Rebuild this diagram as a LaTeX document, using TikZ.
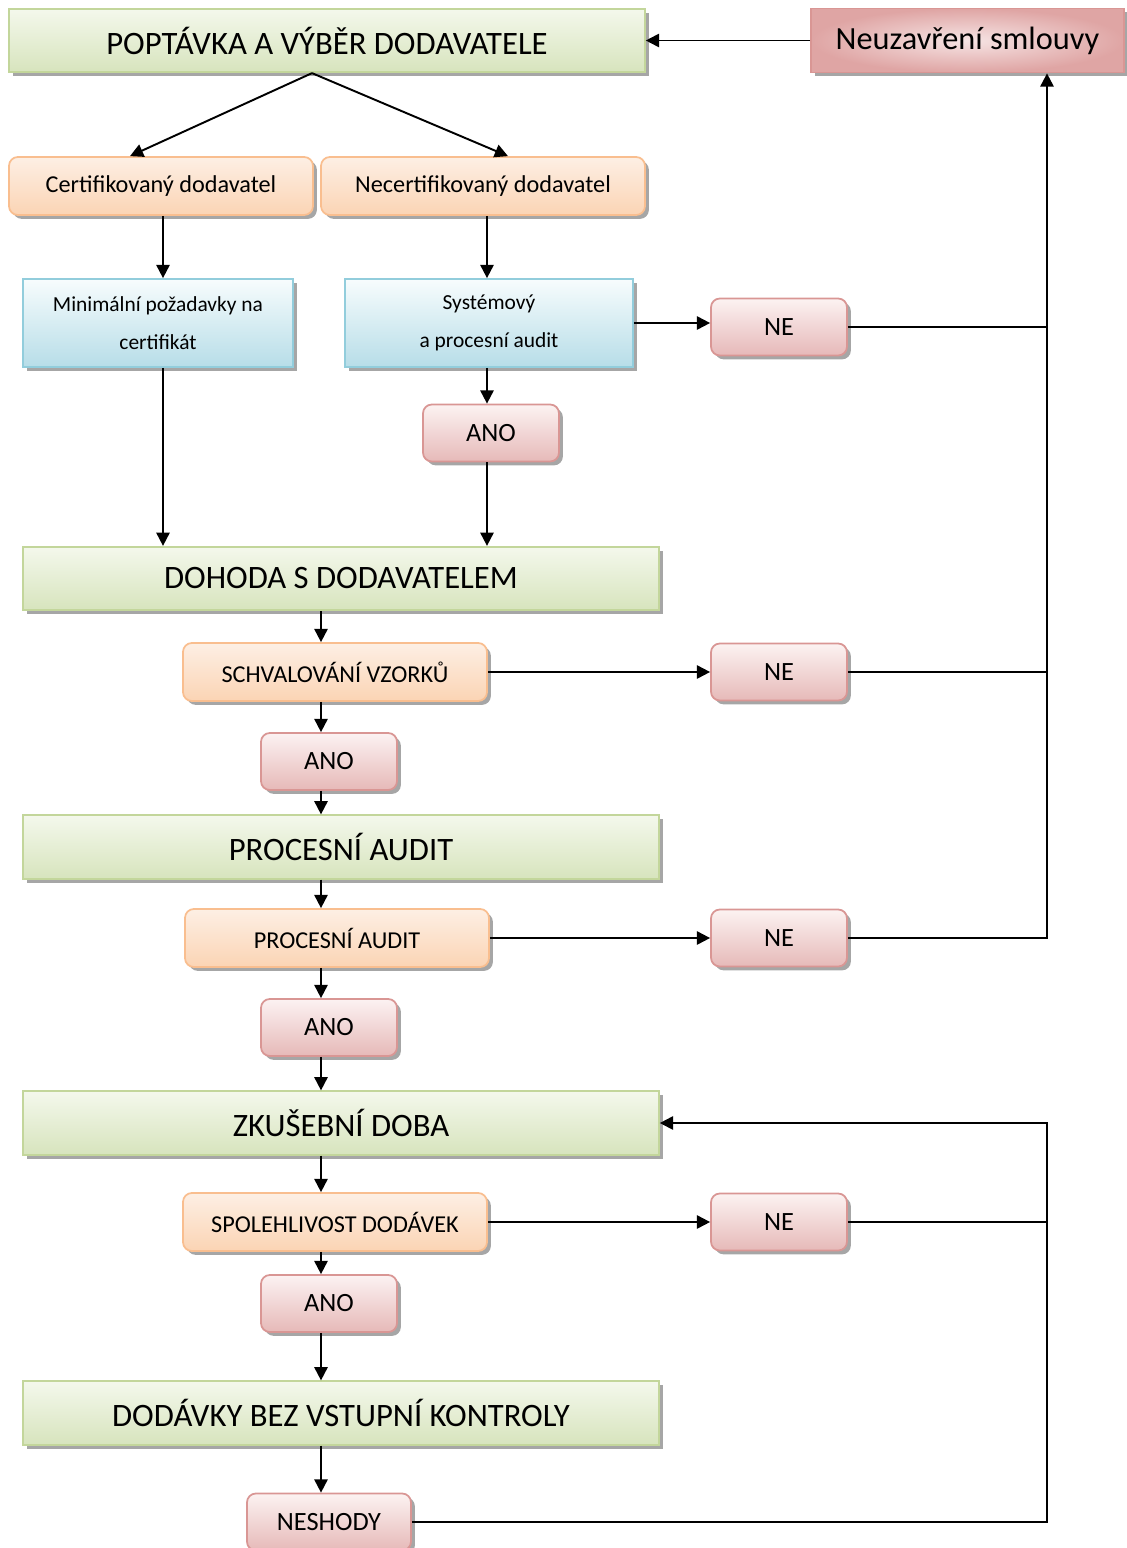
\documentclass[tikz,border=0pt]{standalone}
\usepackage{fontspec}
\setmainfont{Carlito}
\usetikzlibrary{arrows.meta,shadows,calc}

\definecolor{grnline}{HTML}{C3D69B}
\definecolor{grntop}{HTML}{F4F8EC}
\definecolor{grnbot}{HTML}{D7E4BD}
\definecolor{orgline}{HTML}{F9BE8F}
\definecolor{orgtop}{HTML}{FDEFE4}
\definecolor{orgbot}{HTML}{FBD4B4}
\definecolor{bluline}{HTML}{92CDDC}
\definecolor{blutop}{HTML}{F7FCFD}
\definecolor{blubot}{HTML}{B7DDE8}
\definecolor{redline}{HTML}{D99694}
\definecolor{redtop}{HTML}{FCF2F2}
\definecolor{redbot}{HTML}{E6B9B8}
\definecolor{redin}{HTML}{F6E4E4}
\definecolor{redout}{HTML}{DFA5A4}

\tikzset{
	box/.style={draw,line width=1pt,inner sep=0pt,align=center,
		drop shadow={shadow xshift=2.2pt,shadow yshift=-2.2pt,fill=black!50,opacity=0.7}},
	greenbox/.style={box,draw=grnline,top color=grntop,bottom color=grnbot,
		minimum width=12.72cm,minimum height=1.27cm,font=\fontsize{18.6}{22}\selectfont},
	orangebox/.style={box,draw=orgline,top color=orgtop,bottom color=orgbot,
		rounded corners=5pt,minimum height=1.16cm,font=\fontsize{13.8}{16}\selectfont},
	bluebox/.style={box,draw=bluline,top color=blutop,bottom color=blubot,
		minimum height=1.76cm,font=\fontsize{12.2}{22}\selectfont},
	redbox/.style={box,draw=redline,top color=redtop,bottom color=redbot,
		rounded corners=5pt,minimum width=2.72cm,minimum height=1.14cm,
		font=\fontsize{15}{18}\selectfont},
	endbox/.style={box,draw=redline,inner color=redin,outer color=redout,
		minimum width=6.26cm,minimum height=1.28cm,font=\fontsize{18.4}{22}\selectfont}
}

\begin{document}
\begin{tikzpicture}[x=0.02cm,y=-0.02cm,>={Triangle[length=7.5pt,width=7.5pt]},line width=1.1pt]

\useasboundingbox (0,0) rectangle (1126,1548);

% top row
\node[greenbox] (popt) at (327,40.5) {POPTÁVKA A VÝBĚR DODAVATELE};
\node[endbox] (neuz) at (967.5,40.5) {Neuzavření smlouvy};

% two kinds of supplier
\node[orangebox,minimum width=6.08cm] (cert) at (161,186) {Certifikovaný dodavatel};
\node[orangebox,minimum width=6.48cm] (necert) at (483,186) {Necertifikovaný dodavatel};
\node[bluebox,minimum width=5.4cm] (mini) at (158,323) {Minimální požadavky na\\certifikát};
\node[bluebox,minimum width=5.76cm] (syst) at (489,323) {Systémový\\a procesní audit};
\node[redbox] (ne1) at (779,327) {NE};
\node[redbox] (ano1) at (491,433) {ANO};

% main chain
\node[greenbox] (dohoda) at (341,578.5) {DOHODA S DODAVATELEM};
\node[orangebox,minimum width=6.08cm] (schval) at (335,672) {SCHVALOVÁNÍ VZORKŮ};
\node[redbox] (ne2) at (779,672) {NE};
\node[redbox] (ano2) at (329,761.5) {ANO};
\node[greenbox] (proc) at (341,847) {PROCESNÍ AUDIT};
\node[orangebox,minimum width=6.08cm] (procaud) at (337,938) {PROCESNÍ AUDIT};
\node[redbox] (ne3) at (779,938) {NE};
\node[redbox] (ano3) at (329,1027.5) {ANO};
\node[greenbox] (zkus) at (341,1123) {ZKUŠEBNÍ DOBA};
\node[orangebox,minimum width=6.08cm] (spol) at (335,1222) {SPOLEHLIVOST DODÁVEK};
\node[redbox] (ne4) at (779,1222) {NE};
\node[redbox] (ano4) at (329,1303.5) {ANO};
\node[greenbox] (dodav) at (341,1413) {DODÁVKY BEZ VSTUPNÍ KONTROLY};
\node[redbox,minimum width=3.28cm] (neshody) at (329,1522) {NESHODY};

% vertical lines
\coordinate (lft) at (163,0);
\coordinate (mid) at (487,0);
\coordinate (ax) at (321,0);
\coordinate (bus) at (1047,0);

\draw[->] (neuz.west) -- (popt.east);
\draw[->] ($(popt.south)+(-15,0)$) -- ($(cert.north)+(-31,0)$);
\draw[->] ($(popt.south)+(-15,0)$) -- ($(necert.north)+(25,0)$);

\draw[->] (cert.south -| lft) -- (mini.north -| lft);
\draw[->] (mini.south -| lft) -- (dohoda.north -| lft);
\draw[->] (necert.south -| mid) -- (syst.north -| mid);
\draw[->] (syst.south -| mid) -- (ano1.north -| mid);
\draw[->] (ano1.south -| mid) -- (dohoda.north -| mid);
\draw[->] (syst.east) -- (syst.east -| ne1.west);

\foreach \a/\b in {dohoda/schval,schval/ano2,ano2/proc,proc/procaud,procaud/ano3,
	ano3/zkus,zkus/spol,spol/ano4,ano4/dodav,dodav/neshody}
	\draw[->] (\a.south -| ax) -- (\b.north -| ax);
\foreach \a/\b in {schval/ne2,procaud/ne3,spol/ne4}
	\draw[->] (\a.east) -- (\b.west);

% back to the right
\draw (ne1.east) -- (ne1.east -| bus);
\draw (ne2.east) -- (ne2.east -| bus);
\draw[->] (ne3.east) -- (ne3.east -| bus) -- (neuz.south -| bus);
\draw (ne4.east) -- (ne4.east -| bus);
\draw[->] (neshody.east) -- (neshody.east -| bus) -- (zkus.east -| bus) -- (zkus.east);

\end{tikzpicture}
\end{document}
